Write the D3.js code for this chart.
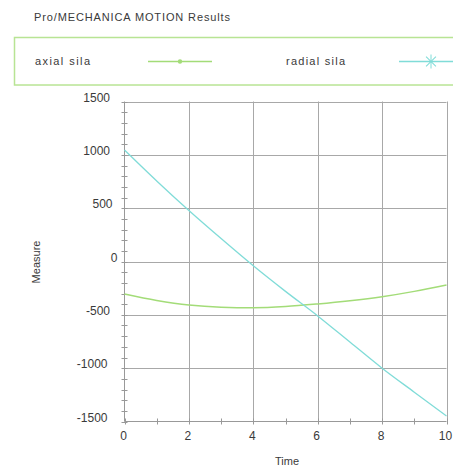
<!DOCTYPE html>
<html><head><meta charset="utf-8">
<script src="https://cdn.jsdelivr.net/npm/d3@7"></script>
<style>body{margin:0;background:#fff;} text{font-family:"Liberation Sans",Arial,sans-serif;fill:#3a3a3a;}</style>
</head><body>
<svg id="c" width="453" height="466"></svg>
<script>
const title = "Pro/MECHANICA MOTION Results";
const xLabel = "Time";
const yLabel = "Measure";
const seriesNames = ["axial sila", "radial sila"];
const times = [0,1,2,3,4,5,6,7,8,9,10];
const axialSila = [-305,-365,-408,-428,-433,-422,-398,-368,-330,-280,-220];
const radialSila = [1045,755,478,215,-40,-280,-510,-755,-1000,-1225,-1448];
const xTicks = [0,2,4,6,8,10];
const yTicks = [1500,1000,500,0,-500,-1000,-1500];
const colors = ["#a3dc78", "#80dcd8"];

const svg = d3.select("#c");
const x = d3.scaleLinear().domain([0,10]).range([124.5,446.5]);
const y = d3.scaleLinear().domain([-1500,1500]).range([421.5,101.5]);

// title
svg.append("text").attr("x",34).attr("y",21).attr("font-size",11)
  .attr("textLength",196).attr("lengthAdjust","spacing").text(title);

// legend box
svg.append("rect").attr("x",14.5).attr("y",37.5).attr("width",460).attr("height",47.5)
  .attr("fill","none").attr("stroke","#b8e494").attr("stroke-width",1.5);
svg.append("text").attr("x",35).attr("y",65).attr("font-size",11)
  .attr("textLength",55).attr("lengthAdjust","spacing").text(seriesNames[0]);
svg.append("line").attr("x1",148).attr("x2",212).attr("y1",61.5).attr("y2",61.5).attr("stroke",colors[0]).attr("stroke-width",1.5);
svg.append("circle").attr("cx",180).attr("cy",61.5).attr("r",2.2).attr("fill",colors[0]);
svg.append("text").attr("x",286).attr("y",65).attr("font-size",11)
  .attr("textLength",59).attr("lengthAdjust","spacing").text(seriesNames[1]);
svg.append("line").attr("x1",399).attr("x2",460).attr("y1",61.5).attr("y2",61.5).attr("stroke",colors[1]).attr("stroke-width",1.5);
const ast = svg.append("g").attr("transform","translate(431,61.5)").attr("stroke",colors[1]).attr("stroke-width",1);
[0,45,90,135].forEach(a=>{
  ast.append("line").attr("x1",-7).attr("x2",7).attr("y1",0).attr("y2",0).attr("transform",`rotate(${a})`);
});

// gridlines
const grid = svg.append("g").attr("stroke","#a8a8a8").attr("stroke-width",1);
xTicks.slice(1).forEach(t=>grid.append("line").attr("x1",Math.round(x(t))+0.5).attr("x2",Math.round(x(t))+0.5).attr("y1",y(1500)).attr("y2",y(-1500)));
yTicks.slice(0,-1).forEach(t=>grid.append("line").attr("x1",x(0)).attr("x2",x(10)).attr("y1",Math.round(y(t))+0.5).attr("y2",Math.round(y(t))+0.5));

// axes
const axisG = svg.append("g").attr("stroke","#999").attr("stroke-width",1);
axisG.append("line").attr("x1",x(0)).attr("x2",x(0)).attr("y1",y(1500)).attr("y2",y(-1500));
axisG.append("line").attr("x1",x(0)).attr("x2",x(10)).attr("y1",y(-1500)).attr("y2",y(-1500));
d3.range(-1500,1501,100).forEach(v=>{
  const yy = Math.round(y(v))+0.5;
  axisG.append("line").attr("x1",x(0)-3).attr("x2",x(0)+3).attr("y1",yy).attr("y2",yy);
});
d3.range(0,11,1).forEach(v=>{
  const xx = Math.round(x(v))+0.5;
  axisG.append("line").attr("x1",xx).attr("x2",xx).attr("y1",y(-1500)-3).attr("y2",y(-1500)+3);
});

// tick labels
svg.append("g").selectAll("text").data(yTicks).join("text")
  .attr("x",d=>120 - 2.5*String(d).length).attr("y",d=>y(d)).attr("text-anchor","end").attr("font-size",12).text(d=>d);
svg.append("g").selectAll("text").data(xTicks).join("text")
  .attr("x",d=>x(d)-1).attr("y",440).attr("text-anchor","middle").attr("font-size",12).text(d=>d);

// axis titles
svg.append("text").attr("x",287).attr("y",465).attr("text-anchor","middle").attr("font-size",11).text(xLabel);
svg.append("text").attr("transform","translate(40,262) rotate(-90)").attr("text-anchor","middle").attr("font-size",11).text(yLabel);

// series
const line = d3.line().x((d,i)=>x(times[i])).y(d=>y(d)).curve(d3.curveMonotoneX);
svg.append("path").datum(axialSila).attr("d",line).attr("fill","none").attr("stroke",colors[0]).attr("stroke-width",1.5);
svg.append("path").datum(radialSila).attr("d",line).attr("fill","none").attr("stroke",colors[1]).attr("stroke-width",1.3);
</script>
</body></html>
